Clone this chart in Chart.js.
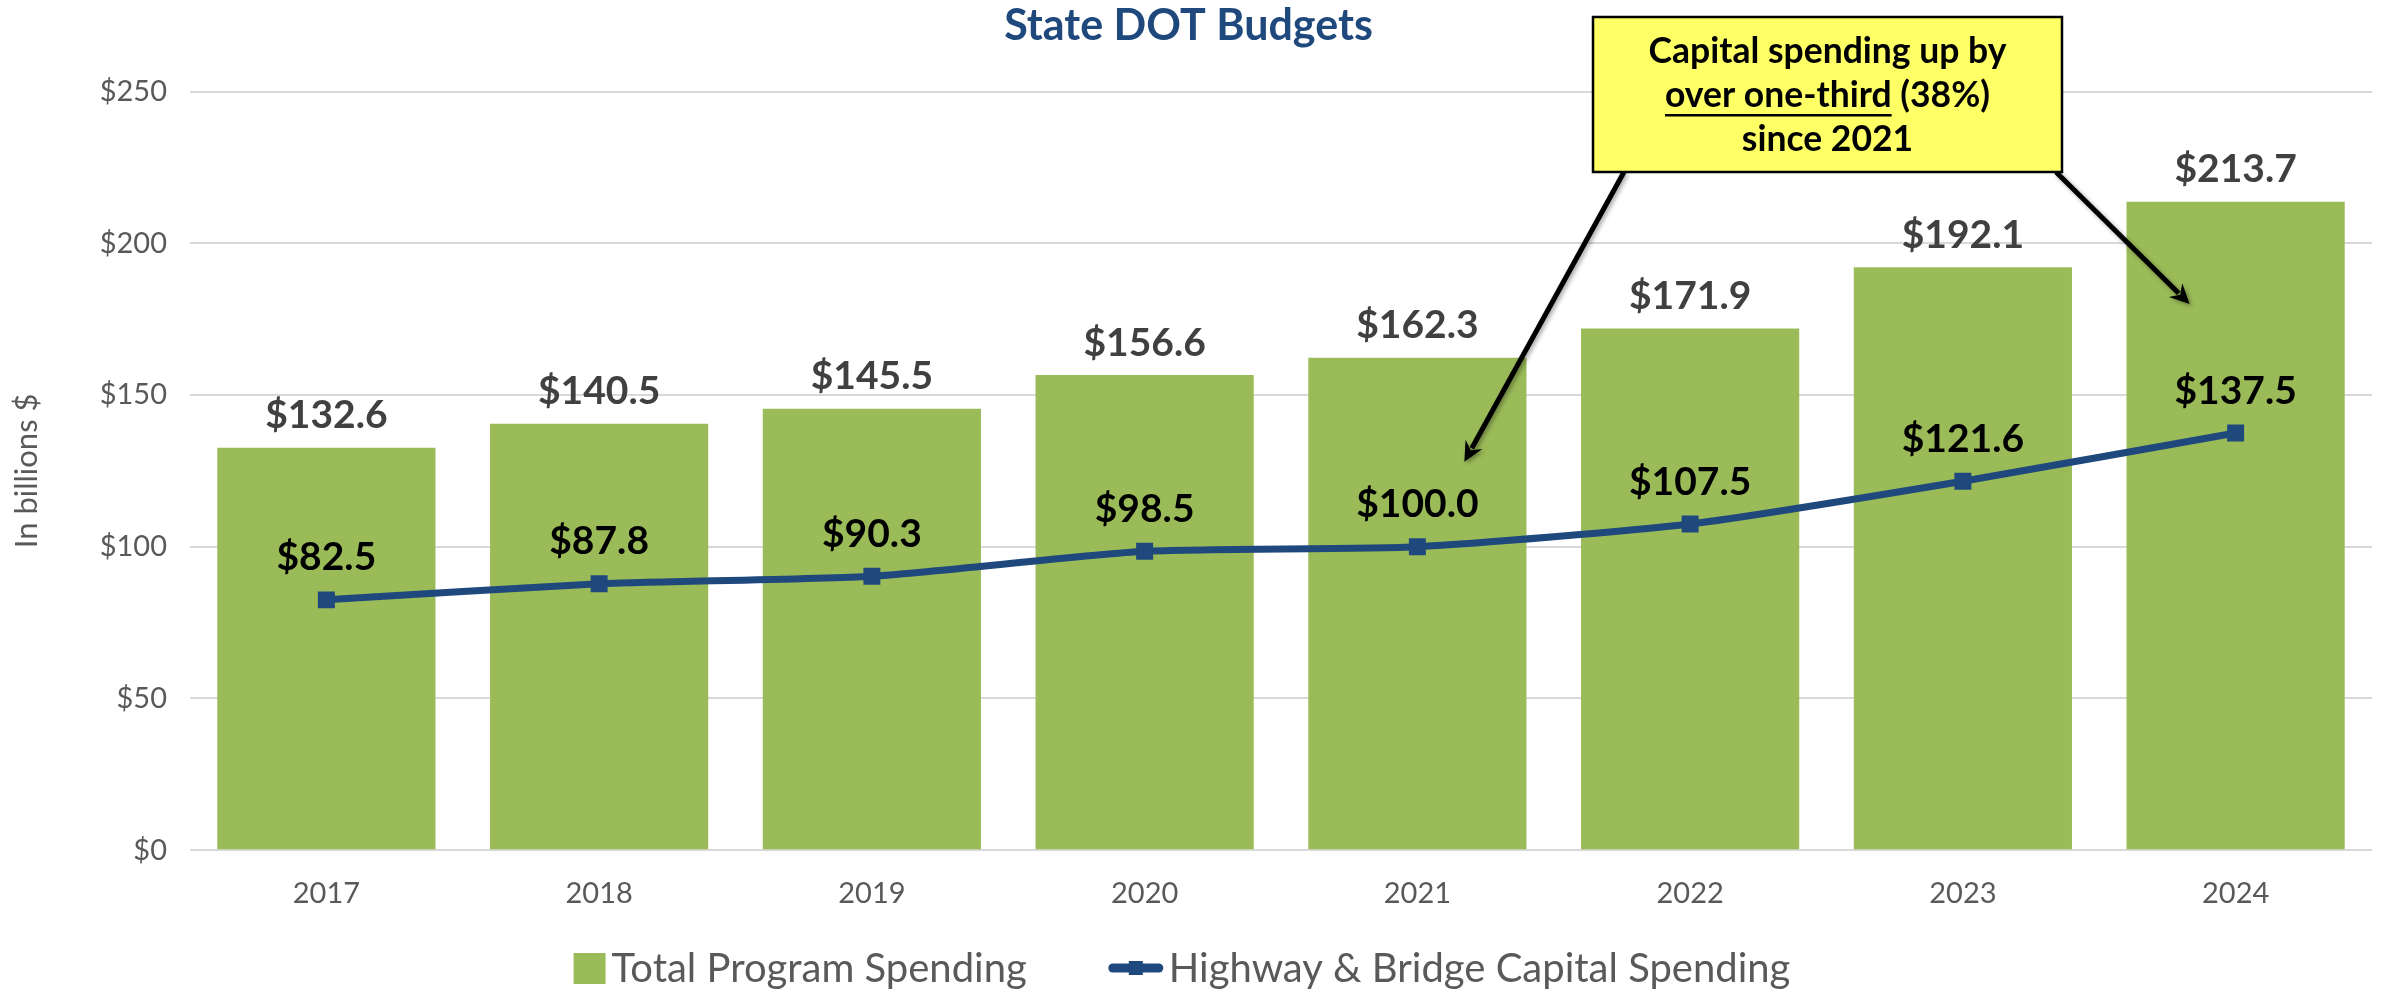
<!DOCTYPE html>
<html>
<head>
<meta charset="utf-8">
<script src="https://cdn.jsdelivr.net/npm/chart.js@4/dist/chart.umd.min.js"></script>
<style>
  html, body { margin: 0; padding: 0; background: #fff; }
  #wrap { width: 2384px; height: 995px; }
</style>
</head>
<body>
<div id="wrap"><canvas id="dotChart" width="2384" height="995"></canvas></div>
<script>
const years = ['2017', '2018', '2019', '2020', '2021', '2022', '2023', '2024'];
const totalSpending = [132.6, 140.5, 145.5, 156.6, 162.3, 171.9, 192.1, 213.7];
const capitalSpending = [82.5, 87.8, 90.3, 98.5, 100.0, 107.5, 121.6, 137.5];
const yTicks = [0, 50, 100, 150, 200, 250];

const green = '#9BBB59';
const navy = '#1F497D';
const grey = '#595959';
const FONT = 'Lato, "Open Sans", sans-serif';

// value labels above bars and line points
const valueLabels = {
    id: 'valueLabels',
    afterDatasetsDraw(chart) {
        const ctx = chart.ctx;
        ctx.save();
        ctx.textAlign = 'center';
        ctx.textBaseline = 'middle';
        ctx.font = 'bold 39px ' + FONT;
        chart.getDatasetMeta(0).data.forEach((bar, i) => {
            ctx.fillStyle = '#404040';
            ctx.fillText('$' + totalSpending[i].toFixed(1), bar.x, bar.y - 32);
        });
        chart.getDatasetMeta(1).data.forEach((pt, i) => {
            ctx.fillStyle = '#000';
            ctx.fillText('$' + capitalSpending[i].toFixed(1), pt.x, pt.y - 42);
        });
        ctx.restore();
    }
};

// callout box with two arrows
const callout = {
    id: 'callout',
    afterDraw(chart) {
        const ctx = chart.ctx;
        const x = chart.scales.x, y = chart.scales.y;
        const box = { l: 1593, t: 17, r: 2062, b: 172 };

        function arrow(x1, y1, x2, y2) {
            const ang = Math.atan2(y2 - y1, x2 - x1);
            const head = 22;
            ctx.save();
            ctx.shadowColor = 'rgba(0,0,0,0.35)';
            ctx.shadowBlur = 4;
            ctx.shadowOffsetX = 2;
            ctx.shadowOffsetY = 2;
            ctx.strokeStyle = '#000';
            ctx.fillStyle = '#000';
            ctx.lineWidth = 5;
            ctx.beginPath();
            ctx.moveTo(x1, y1);
            ctx.lineTo(x2 - Math.cos(ang) * head * 0.7, y2 - Math.sin(ang) * head * 0.7);
            ctx.stroke();
            ctx.beginPath();
            ctx.moveTo(x2, y2);
            ctx.lineTo(x2 - head * Math.cos(ang - 0.45), y2 - head * Math.sin(ang - 0.45));
            ctx.lineTo(x2 - head * 0.6 * Math.cos(ang), y2 - head * 0.6 * Math.sin(ang));
            ctx.lineTo(x2 - head * Math.cos(ang + 0.45), y2 - head * Math.sin(ang + 0.45));
            ctx.closePath();
            ctx.fill();
            ctx.restore();
        }

        arrow(box.l + 31, box.b, x.getPixelForValue(4) + 47, y.getPixelForValue(128));
        arrow(box.r - 6, box.b, x.getPixelForValue(7) - 46, y.getPixelForValue(180));

        ctx.save();
        ctx.fillStyle = '#FFFF66';
        ctx.fillRect(box.l, box.t, box.r - box.l, box.b - box.t);
        ctx.strokeStyle = '#000';
        ctx.lineWidth = 2.5;
        ctx.strokeRect(box.l, box.t, box.r - box.l, box.b - box.t);

        const cx = (box.l + box.r) / 2;
        ctx.fillStyle = '#000';
        ctx.textBaseline = 'middle';
        ctx.font = 'bold 35.5px ' + FONT;
        ctx.textAlign = 'center';
        ctx.fillText('Capital spending up by', cx, 52);
        ctx.fillText('since 2021', cx, 140);

        const partA = 'over one-third';
        const partB = ' (38%)';
        const wA = ctx.measureText(partA).width;
        const wB = ctx.measureText(partB).width;
        const sx = cx - (wA + wB) / 2;
        ctx.textAlign = 'left';
        ctx.fillText(partA, sx, 96);
        ctx.fillText(partB, sx + wA, 96);
        ctx.fillRect(sx, 114, wA, 2.5);
        ctx.restore();
    }
};

// legend drawn under the axis
const bottomLegend = {
    id: 'bottomLegend',
    afterDraw(chart) {
        const ctx = chart.ctx;
        const cy = 968;
        const labels = chart.data.datasets.map(d => d.label);
        ctx.save();
        ctx.font = '40px ' + FONT;
        ctx.textBaseline = 'middle';
        ctx.textAlign = 'left';
        const w0 = ctx.measureText(labels[0]).width;
        const w1 = ctx.measureText(labels[1]).width;
        const boxW = 32, lineW = 54, gap = 6, between = 82;
        const total = boxW + gap + w0 + between + lineW + gap + w1;
        let lx = chart.width / 2 - total / 2 - 10;

        ctx.fillStyle = green;
        ctx.fillRect(lx, cy - 15, boxW, 31);
        lx += boxW + gap;
        ctx.fillStyle = grey;
        ctx.fillText(labels[0], lx, cy + 1);
        lx += w0 + between;

        ctx.strokeStyle = navy;
        ctx.lineWidth = 9;
        ctx.lineCap = 'round';
        ctx.beginPath();
        ctx.moveTo(lx + 4, cy);
        ctx.lineTo(lx + lineW - 4, cy);
        ctx.stroke();
        ctx.fillStyle = navy;
        ctx.fillRect(lx + lineW / 2 - 7, cy - 7, 14, 14);
        lx += lineW + gap;
        ctx.fillStyle = grey;
        ctx.fillText(labels[1], lx, cy + 1);
        ctx.restore();
    }
};

const ctxDot = document.getElementById('dotChart').getContext('2d');

const dotChart = new Chart(ctxDot, {
    type: 'bar',
    data: {
        labels: years,
        datasets: [{
            type: 'bar',
            label: 'Total Program Spending',
            data: totalSpending,
            backgroundColor: green,
            categoryPercentage: 1.0,
            barPercentage: 0.8,
            order: 2
        }, {
            type: 'line',
            label: 'Highway & Bridge Capital Spending',
            data: capitalSpending,
            borderColor: navy,
            backgroundColor: navy,
            borderWidth: 7,
            pointStyle: 'rect',
            pointRadius: 12,
            pointBorderWidth: 0,
            pointBackgroundColor: navy,
            tension: 0.2,
            order: 1
        }]
    },
    options: {
        responsive: false,
        devicePixelRatio: 1,
        animation: false,
        layout: { padding: { left: 0, right: 7, top: 0, bottom: 58 } },
        plugins: {
            legend: { display: false },
            tooltip: { enabled: false },
            title: {
                display: true,
                text: 'State DOT Budgets',
                color: navy,
                font: { family: FONT, size: 43, weight: 'bold' },
                padding: { top: 0, bottom: 40 }
            }
        },
        scales: {
            x: {
                grid: { display: false, drawTicks: false },
                border: { display: false },
                ticks: { color: grey, font: { family: FONT, size: 29 }, padding: 26 }
            },
            y: {
                min: 0,
                max: 250,
                afterFit(scale) { scale.width = 190; },
                afterBuildTicks(scale) { scale.ticks = yTicks.map(v => ({ value: v })); },
                grid: { color: '#D9D9D9', lineWidth: 2, drawTicks: false },
                border: { display: false },
                ticks: {
                    color: grey,
                    font: { family: FONT, size: 29 },
                    padding: 23,
                    callback: v => '$' + v
                },
                title: {
                    display: true,
                    text: 'In billions $',
                    color: grey,
                    font: { family: FONT, size: 31 },
                    padding: { top: 8, bottom: 0 }
                }
            }
        }
    },
    plugins: [valueLabels, callout, bottomLegend]
});
</script>
</body>
</html>
